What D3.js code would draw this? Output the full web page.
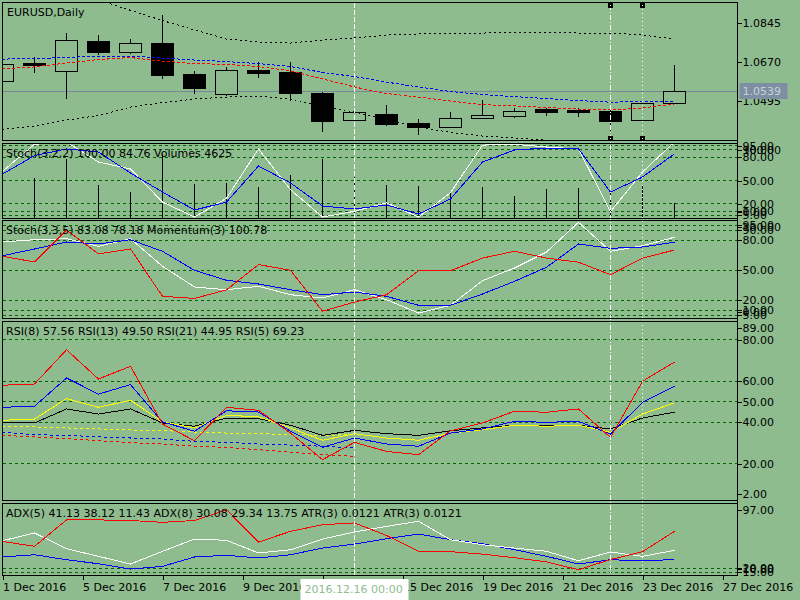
<!DOCTYPE html>
<html>
<head>
<meta charset="utf-8">
<title>EURUSD,Daily</title>
<script src="https://d3js.org/d3.v7.min.js"></script>
<style>
    body { margin: 0; background: #8fbc8f; }
    svg { display: block; font-family: "DejaVu Sans", sans-serif; font-size: 11px; }
    .axis text { font-family: "DejaVu Sans", sans-serif; font-size: 11px; fill: #000; }
    .axis line { stroke: #000; shape-rendering: crispEdges; }
    .axis path { display: none; }
    .frame { fill: none; stroke: #000; shape-rendering: crispEdges; }
    .lvl { stroke: #006400; stroke-dasharray: 3,3; shape-rendering: crispEdges; }
</style>
</head>
<body>
<script>
    // ---- data ----
    var dates = ["2016.12.01", "2016.12.02", "2016.12.05", "2016.12.06", "2016.12.07", "2016.12.08",
        "2016.12.09", "2016.12.12", "2016.12.13", "2016.12.14", "2016.12.15", "2016.12.16",
        "2016.12.19", "2016.12.20", "2016.12.21", "2016.12.22", "2016.12.23", "2016.12.26",
        "2016.12.27", "2016.12.28", "2016.12.29", "2016.12.30"];
    var open  = [1.0585, 1.0666, 1.0630, 1.0764, 1.0715, 1.0755, 1.0616, 1.0526, 1.0634, 1.0625, 1.0531,
        1.0410, 1.0437, 1.0396, 1.0378, 1.0419, 1.0428, 1.0459, 1.0455, 1.0450, 1.0410, 1.0486];
    var high  = [1.0670, 1.0692, 1.0800, 1.0791, 1.0773, 1.0881, 1.0630, 1.0648, 1.0670, 1.0670, 1.0535,
        1.0455, 1.0477, 1.0414, 1.0446, 1.0500, 1.0464, 1.0464, 1.0464, 1.0477, 1.0486, 1.0657];
    var low   = [1.0580, 1.0621, 1.0504, 1.0701, 1.0706, 1.0594, 1.0526, 1.0517, 1.0598, 1.0495, 1.0356,
        1.0405, 1.0383, 1.0342, 1.0374, 1.0419, 1.0419, 1.0428, 1.0423, 1.0360, 1.0410, 1.0486];
    var close = [1.0661, 1.0657, 1.0769, 1.0715, 1.0755, 1.0612, 1.0553, 1.0634, 1.0621, 1.0531, 1.0405,
        1.0446, 1.0392, 1.0378, 1.0419, 1.0432, 1.0450, 1.0446, 1.0446, 1.0405, 1.0486, 1.0539];

    var bbUpper = [1.1029, 1.1011, 1.0984, 1.0948, 1.0902, 1.0856, 1.0814, 1.0773, 1.0760, 1.0755, 1.0769,
        1.0778, 1.0791, 1.0796, 1.0796, 1.0800, 1.0802, 1.0802, 1.0800, 1.0800, 1.0791, 1.0773];
    var bbLower = [1.0369, 1.0383, 1.0410, 1.0430, 1.0468, 1.0488, 1.0504, 1.0513, 1.0517, 1.0504, 1.0473,
        1.0446, 1.0410, 1.0378, 1.0354, 1.0338, 1.0329, 1.0320, 1.0307, 1.0289, 1.0275, 1.0275];
    var maBlue = [1.0683, 1.0686, 1.0690, 1.0697, 1.0697, 1.0688, 1.0679, 1.0672, 1.0663, 1.0650, 1.0623,
        1.0605, 1.0580, 1.0558, 1.0538, 1.0524, 1.0515, 1.0506, 1.0497, 1.0490, 1.0493, 1.0495];
    var maRed = [1.0639, 1.0648, 1.0666, 1.0681, 1.0690, 1.0674, 1.0663, 1.0659, 1.0650, 1.0630, 1.0594,
        1.0558, 1.0529, 1.0513, 1.0495, 1.0479, 1.0473, 1.0466, 1.0459, 1.0455, 1.0464, 1.0482];
    var priceTicks = [1.0845, 1.0670, 1.0495];

    var volume = [9500, 11600, 17300, 9800, 7800, 18800, 10100, 10400, 9000, 12700, 17300,
        12100, 9800, 9300, 7800, 9000, 6400, 8400, 8700, 7500, 9500, 4625];
    var stoch1Main = [62, 97, 100, 74, 65, 22, 2.6, 27, 91, 38, 2.6, 10, 21, 2.6, 34, 96, 97, 93.5, 91, 9.5, 61, 100];
    var stoch1Signal = [58.4, 82.3, 91, 87, 59.7, 35, 11.7, 22, 68.8, 46.8, 16.9, 13, 18.2, 6.5, 26, 74, 89.6,
        92.2, 91, 35, 54.5, 84.76];

    var stoch2Main = [78.3, 80.6, 81.6, 74, 81.6, 54, 33.3, 30.6, 34, 25.6, 22.3, 30.6, 20.6, 7.3, 15, 39.6,
        52.3, 68.3, 98, 69, 74.6, 83.08];
    var stoch2Signal = [64.6, 71.3, 78.3, 76.3, 80.6, 69, 50, 40, 36.3, 30.6, 25.6, 28.3, 24, 15, 15, 26.3,
        39, 53, 76.3, 72, 73.3, 78.18];
    var momentum = [100.54, 100.32, 101.55, 100.63, 100.82, 99.00, 98.92, 99.25, 100.22, 100.00, 98.43,
        98.78, 99.06, 99.98, 99.98, 100.47, 100.73, 100.47, 100.31, 99.83, 100.47, 100.78];
    var stochLevels = [95, 90, 80, 50, 20, 10, 5];

    var rsi5 = [58.0, 58.6, 75.2, 61.0, 67.2, 39.2, 31.1, 47.3, 45.8, 34.8, 21.9, 30.3, 25.9, 24.3, 35.9,
        39.7, 45.4, 44.9, 46.5, 32.7, 59.9, 69.23];
    var rsi8 = [47.3, 47.8, 61.5, 53.7, 58.3, 40.2, 35.7, 45.6, 45.0, 35.7, 27.9, 32.4, 29.5, 28.4, 34.8,
        36.8, 40.5, 40.0, 40.5, 34.3, 49.7, 57.56];
    var rsi13 = [41.0, 41.6, 51.5, 47.3, 50.7, 40.2, 37.3, 43.4, 42.7, 37.3, 31.3, 34.5, 32.4, 31.3, 34.8,
        36.4, 38.6, 38.1, 38.6, 35.2, 44.0, 49.50];
    var rsi21 = [39.7, 39.7, 46.5, 44.0, 46.5, 39.7, 38.1, 42.1, 41.8, 38.6, 33.7, 36.1, 34.5, 33.7, 35.9,
        37.3, 38.6, 38.6, 38.6, 36.8, 42.1, 44.95];
    var rsiAvgYellow = [38.1, 37.8, 37.3, 36.8, 36.3, 36.0, 35.3, 34.8, 34.5, 34.0, 33.7, 34.0];
    var rsiAvgBlue = [35.2, 34.0, 33.7, 33.0, 32.4, 31.9, 30.8, 30.3, 29.5, 29.0, 28.4, 27.6];
    var rsiAvgRed = [33.7, 32.9, 32.1, 31.1, 30.1, 29.5, 28.4, 27.9, 26.7, 25.5, 24.3, 23.5];
    var rsiLevels = [80, 60, 50, 40, 20];

    var adx5 = [52.7, 61.9, 43.1, 34.0, 24.8, 40.0, 54.7, 53.2, 38.0, 41.9, 54.7, 63.1, 69.9, 75.9, 53.9,
        47.9, 43.9, 40.0, 28.7, 39.2, 34.0, 41.13];
    var adx8 = [33.2, 35.9, 29.9, 25.1, 18.8, 22.0, 33.2, 35.2, 32.0, 35.9, 43.9, 48.7, 55.1, 60.7, 53.9,
        49.1, 41.9, 34.0, 24.8, 29.9, 28.7, 30.08];
    var atr3 = [0.0104, 0.0096, 0.0140, 0.0140, 0.0139, 0.0136, 0.0139, 0.0157, 0.0103, 0.0121, 0.0132,
        0.0135, 0.0114, 0.0088, 0.0087, 0.0083, 0.0077, 0.0070, 0.0057, 0.0074, 0.0087, 0.0121];
    var adxLevels = [20, 15];

    var timeTickIdx = [0, 2.5, 5, 7.5, 10, 12.5, 15, 17.5, 20, 22.5];
    var timeTickLabels = ["1 Dec 2016", "5 Dec 2016", "7 Dec 2016", "9 Dec 2016", "13 Dec 2016",
        "15 Dec 2016", "19 Dec 2016", "21 Dec 2016", "23 Dec 2016", "27 Dec 2016"];
    var crossIdx = 11;
    var objectIdx = [19, 20];

    // ---- layout ----
    var bg = "#8fbc8f";
    var n = close.length;
    var L = 2.5, R = 737.5;
    var panels = [
        { top: 2.5, bottom: 140.5 },
        { top: 143.5, bottom: 218.5 },
        { top: 220.5, bottom: 318.5 },
        { top: 321.5, bottom: 500.5 },
        { top: 503.5, bottom: 575.5 }
    ];

    var svg = d3.select("body").append("svg").attr("width", 800).attr("height", 600);
    svg.append("rect").attr("width", 800).attr("height", 600).attr("fill", bg);

    var x = d3.scaleLinear().domain([0, n - 1]).range([2.5, 674.5]);

    var yPrice = d3.scaleLinear().domain([1.0318, 1.0937]).range([140.5, 2.5]);
    var yVol = d3.scaleLinear().domain([0, 22000]).range([218.5, 142.5]);
    var yStoch1 = d3.scaleLinear().domain([0, 100]).range([219, 142]);
    var yStoch2 = d3.scaleLinear().domain([0, 100]).range([320.3, 220.3]);
    var yMom = d3.scaleLinear().domain([98.08, 101.92]).range([320.3, 220.3]);
    var yRsi = d3.scaleLinear().domain([2, 89]).range([500.7, 321.3]);
    var yAdx = d3.scaleLinear().domain([10.8, 97]).range([575.7, 503.7]);
    var yAtr = d3.scaleLinear().domain([0.0047, 0.0167]).range([575.7, 503.7]);

    var defs = svg.append("defs");
    var pg = panels.map(function (p, k) {
        defs.append("clipPath").attr("id", "clip" + k).append("rect")
            .attr("x", L).attr("y", p.top).attr("width", R - L).attr("height", p.bottom - p.top);
        return svg.append("g").attr("clip-path", "url(#clip" + k + ")");
    });

    function crisp(v) { return Math.round(v - 0.5) + 0.5; }

    function levels(g, vals, y) {
        g.selectAll(null).data(vals).enter().append("line").attr("class", "lvl")
            .attr("x1", L).attr("x2", R)
            .attr("y1", function (d) { return crisp(y(d)); })
            .attr("y2", function (d) { return crisp(y(d)); });
    }

    function series(g, arr, y, color, dash) {
        var line = d3.line()
            .x(function (d, i) { return x(i); })
            .y(function (d) { return y(d); });
        g.append("path").datum(arr).attr("d", line)
            .attr("fill", "none").attr("stroke", color).attr("stroke-width", 1)
            .attr("stroke-dasharray", dash || null)
            .attr("shape-rendering", "crispEdges");
    }

    // ---- panel 1: candles ----
    var g1 = pg[0];
    g1.append("line").attr("x1", L).attr("x2", R)
        .attr("y1", crisp(yPrice(close[n - 1]))).attr("y2", crisp(yPrice(close[n - 1])))
        .attr("stroke", "#778899").attr("shape-rendering", "crispEdges");

    g1.selectAll(".wick").data(d3.range(n)).enter().append("line")
        .attr("x1", function (i) { return x(i); }).attr("x2", function (i) { return x(i); })
        .attr("y1", function (i) { return Math.round(yPrice(high[i])); })
        .attr("y2", function (i) { return Math.round(yPrice(low[i])); })
        .attr("stroke", "#000").attr("shape-rendering", "crispEdges");

    g1.selectAll(".body").data(d3.range(n)).enter().append("rect")
        .attr("x", function (i) { return x(i) - 11; })
        .attr("width", 22)
        .attr("y", function (i) { return Math.round(yPrice(Math.max(open[i], close[i]))) + 0.5; })
        .attr("height", function (i) {
            return Math.max(1, Math.round(yPrice(Math.min(open[i], close[i]))) -
                Math.round(yPrice(Math.max(open[i], close[i]))));
        })
        .attr("fill", function (i) { return close[i] >= open[i] ? bg : "#000"; })
        .attr("stroke", "#000").attr("shape-rendering", "crispEdges");

    series(g1, bbUpper, yPrice, "#000", "2,3");
    series(g1, bbLower, yPrice, "#000", "2,3");
    series(g1, maBlue, yPrice, "#0000ff", "3,2");
    series(g1, maRed, yPrice, "#ff0000", "3,2");

    // ---- panel 2: stoch + volumes ----
    var g2 = pg[1];
    levels(g2, stochLevels, yStoch1);
    g2.selectAll(".vol").data(volume).enter().append("line")
        .attr("x1", function (d, i) { return x(i); }).attr("x2", function (d, i) { return x(i); })
        .attr("y1", yVol(0)).attr("y2", function (d) { return Math.round(yVol(d)); })
        .attr("stroke", "#000").attr("shape-rendering", "crispEdges");
    series(g2, stoch1Main, yStoch1, "#ffffff");
    series(g2, stoch1Signal, yStoch1, "#0000ff");

    // ---- panel 3: stoch + momentum ----
    var g3 = pg[2];
    levels(g3, stochLevels, yStoch2);
    series(g3, stoch2Main, yStoch2, "#ffffff");
    series(g3, stoch2Signal, yStoch2, "#0000ff");
    series(g3, momentum, yMom, "#ff0000");

    // ---- panel 4: RSI ----
    var g4 = pg[3];
    levels(g4, rsiLevels, yRsi);
    series(g4, rsiAvgYellow, yRsi, "#ffff00", "3,3");
    series(g4, rsiAvgBlue, yRsi, "#0000ff", "3,3");
    series(g4, rsiAvgRed, yRsi, "#ff0000", "3,3");
    series(g4, rsi21, yRsi, "#000000");
    series(g4, rsi13, yRsi, "#ffff00");
    series(g4, rsi8, yRsi, "#0000ff");
    series(g4, rsi5, yRsi, "#ff0000");

    // ---- panel 5: ADX / ATR ----
    var g5 = pg[4];
    levels(g5, adxLevels, yAdx);
    series(g5, adx8, yAdx, "#0000ff");
    series(g5, adx5, yAdx, "#ffffff");
    series(g5, atr3, yAtr, "#ff0000");

    // ---- vertical lines across the window ----
    var vg = svg.append("g");
    vg.append("line").attr("x1", x(crossIdx)).attr("x2", x(crossIdx))
        .attr("y1", L).attr("y2", 575.5)
        .attr("stroke", "#fff").attr("stroke-dasharray", "5,2").attr("shape-rendering", "crispEdges");
    vg.selectAll(".obj").data(objectIdx).enter().append("line")
        .attr("x1", function (d) { return x(d); }).attr("x2", function (d) { return x(d); })
        .attr("y1", 5).attr("y2", 575.5)
        .attr("stroke", "#fff")
        .attr("stroke-dasharray", function (d, k) { return k === 0 ? "5,2,1,2" : "1,3"; })
        .attr("shape-rendering", "crispEdges");
    objectIdx.forEach(function (d) {
        [5, 138].forEach(function (yy) {
            vg.append("rect").attr("x", x(d) - 2.5).attr("y", yy - 2.5).attr("width", 5).attr("height", 5)
                .attr("fill", "#000").attr("shape-rendering", "crispEdges");
            vg.append("rect").attr("x", x(d) - 0.5).attr("y", yy - 0.5).attr("width", 1).attr("height", 1)
                .attr("fill", "#fff").attr("shape-rendering", "crispEdges");
        });
    });

    // ---- frames ----
    panels.forEach(function (p) {
        svg.append("rect").attr("class", "frame")
            .attr("x", L).attr("y", p.top).attr("width", R - L).attr("height", p.bottom - p.top);
    });

    // ---- titles ----
    var titles = [
        "EURUSD,Daily",
        "Stoch(3,2,2) 100.00 84.76 Volumes 4625",
        "Stoch(3,3,5) 83.08 78.18 Momentum(3) 100.78",
        "RSI(8) 57.56 RSI(13) 49.50 RSI(21) 44.95 RSI(5) 69.23",
        "ADX(5) 41.13 38.12 11.43 ADX(8) 30.08 29.34 13.75 ATR(3) 0.0121 ATR(3) 0.0121"
    ];
    panels.forEach(function (p, k) {
        svg.append("text").attr("x", k === 0 ? 7 : 6).attr("y", p.top + 13.5).attr("fill", "#000").text(titles[k]);
    });

    // ---- right axes ----
    function rightAxis(y, vals, fmt) {
        svg.append("g").attr("class", "axis").attr("transform", "translate(" + R + ",0)")
            .call(d3.axisRight(y).tickValues(vals).tickFormat(d3.format(fmt)).tickSize(4).tickPadding(1));
    }
    rightAxis(yPrice, priceTicks, ".4f");
    rightAxis(yStoch1, stochLevels, ".2f");
    rightAxis(yStoch2, stochLevels, ".2f");
    rightAxis(yRsi, rsiLevels, ".2f");
    rightAxis(yAdx, adxLevels, ".2f");

    // window max / min labels, kept inside each sub window
    var extremes = [
        { p: panels[1], y: yStoch1 }, { p: panels[2], y: yStoch2 },
        { p: panels[3], y: yRsi }, { p: panels[4], y: yAdx }
    ];
    extremes.forEach(function (e) {
        var dom = e.y.domain();
        [[dom[1], e.p.top + 6.5], [dom[0], e.p.bottom - 6.5]].forEach(function (pair) {
            svg.append("line").attr("x1", R).attr("x2", R + 4)
                .attr("y1", crisp(pair[1])).attr("y2", crisp(pair[1])).attr("stroke", "#000")
                .attr("shape-rendering", "crispEdges");
            svg.append("text").attr("x", R + 5).attr("y", pair[1]).attr("dy", "0.32em")
                .attr("fill", "#000").text(d3.format(".2f")(pair[0]));
        });
    });

    // right axis line
    svg.append("line").attr("x1", R).attr("x2", R).attr("y1", 2.5).attr("y2", 575.5)
        .attr("stroke", "#000").attr("shape-rendering", "crispEdges");

    // current price tag
    var yLast = yPrice(close[n - 1]);
    svg.append("rect").attr("x", R + 2).attr("y", Math.round(yLast) - 8).attr("width", 48).attr("height", 16)
        .attr("fill", "#7f8fa3");
    svg.append("text").attr("x", R + 5).attr("y", yLast).attr("dy", "0.35em").attr("fill", "#c8d0d4")
        .text(d3.format(".4f")(close[n - 1]));

    // ---- time axis ----
    var ax = svg.append("g").attr("class", "axis").attr("transform", "translate(0,575.5)")
        .call(d3.axisBottom(x).tickValues(timeTickIdx)
            .tickFormat(function (d, i) { return timeTickLabels[i]; }).tickSize(4).tickPadding(4));
    ax.selectAll("text").attr("text-anchor", "start").attr("x", 0);
    ax.selectAll(".tick line").attr("transform", "translate(0.5,0)");

    // crosshair date tag
    var cx = x(crossIdx);
    svg.append("rect").attr("x", cx - 54).attr("y", 579).attr("width", 108).attr("height", 21)
        .attr("fill", "#fff");
    svg.append("text").attr("x", cx - 50).attr("y", 593).attr("fill", bg)
        .text(dates[crossIdx] + " 00:00");
</script>
</body>
</html>
